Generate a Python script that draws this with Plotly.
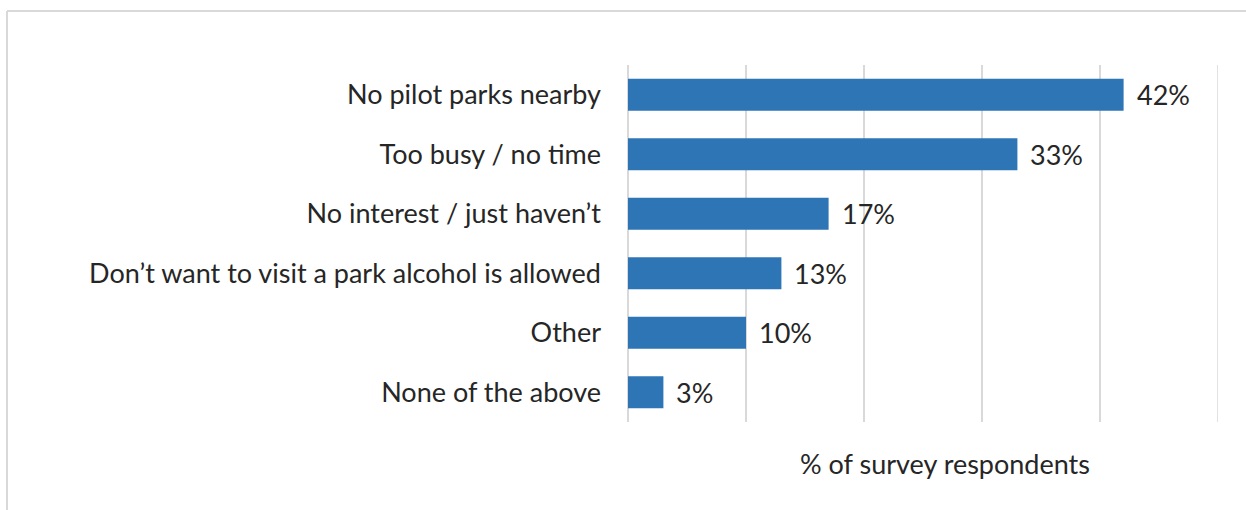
import plotly.graph_objects as go

categories = [
    "No pilot parks nearby",
    "Too busy / no time",
    "No interest / just haven’t",
    "Don’t want to visit a park alcohol is allowed",
    "Other",
    "None of the above",
]
values = [42, 33, 17, 13, 10, 3]
value_labels = ["42%", "33%", "17%", "13%", "10%", "3%"]
axis_title = "% of survey respondents"
x_max = 50

W, H = 1246, 510
L, R, T, B = 628, 1218, 65, 422

FONT = "Lato"
FS = 27
TXT = "#262626"
GRID = "#d9d9d9"
BAR = "#2e75b6"

fig = go.Figure(
    go.Bar(
        y=categories,
        x=values,
        orientation="h",
        marker=dict(color=BAR, line=dict(width=0)),
        width=0.54,
        hoverinfo="x+y",
    )
)

annotations = [
    dict(
        text=lab,
        xref="x",
        yref="y",
        x=v,
        y=c,
        xanchor="left",
        yanchor="middle",
        xshift=11,
        showarrow=False,
        font=dict(family=FONT, size=FS, color=TXT),
    )
    for c, v, lab in zip(categories, values, value_labels)
]
annotations.append(
    dict(
        text=axis_title,
        xref="paper",
        yref="paper",
        x=(945 - L) / (R - L),
        y=(B - 463) / (B - T),
        xanchor="center",
        yanchor="middle",
        showarrow=False,
        font=dict(family=FONT, size=FS, color=TXT),
    )
)

fig.update_layout(
    width=W,
    height=H,
    margin=dict(l=L, r=W - R, t=T, b=H - B, pad=0),
    paper_bgcolor="white",
    plot_bgcolor="white",
    showlegend=False,
    font=dict(family=FONT, color=TXT),
    xaxis=dict(
        range=[0, x_max],
        dtick=10,
        showgrid=True,
        gridcolor=GRID,
        gridwidth=1.5,
        zeroline=True,
        zerolinecolor=GRID,
        zerolinewidth=1.5,
        showticklabels=False,
        showline=False,
        fixedrange=True,
    ),
    yaxis=dict(
        autorange="reversed",
        showgrid=False,
        zeroline=False,
        showline=False,
        ticks="",
        ticklabelstandoff=26,
        tickfont=dict(family=FONT, size=FS, color=TXT),
        fixedrange=True,
    ),
    annotations=annotations,
    shapes=[
        # right-edge gridline at the axis maximum
        dict(
            type="line",
            xref="x",
            yref="paper",
            x0=x_max,
            x1=x_max,
            y0=0,
            y1=1,
            line=dict(color=GRID, width=1.5),
            layer="below",
        ),
        # chart-area border (top and left)
        dict(
            type="line",
            xref="paper",
            yref="paper",
            x0=(7 - L) / (R - L),
            x1=(W + 10 - L) / (R - L),
            y0=(B - 11) / (B - T),
            y1=(B - 11) / (B - T),
            line=dict(color=GRID, width=2),
        ),
        dict(
            type="line",
            xref="paper",
            yref="paper",
            x0=(7 - L) / (R - L),
            x1=(7 - L) / (R - L),
            y0=(B - 11) / (B - T),
            y1=(B - H - 10) / (B - T),
            line=dict(color=GRID, width=2),
        ),
    ],
)

fig.write_html("out.html")
